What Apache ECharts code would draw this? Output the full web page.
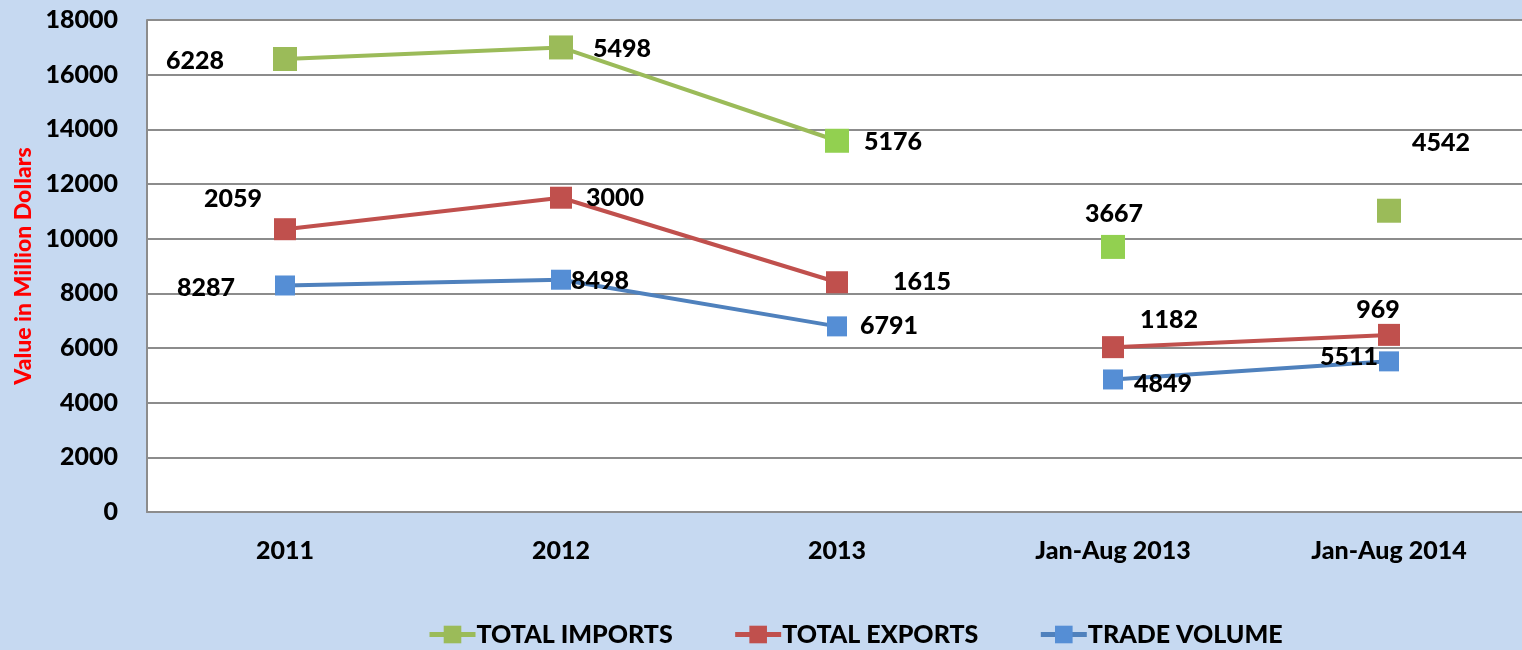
<!DOCTYPE html>
<html>
<head>
<meta charset="utf-8">
<script src="https://cdn.jsdelivr.net/npm/echarts@6/dist/echarts.min.js"></script>
<style>
  html, body { margin: 0; padding: 0; background: #c6d9f1; }
  #main { width: 1522px; height: 650px; }
</style>
</head>
<body>
<div id="main"></div>
<script>
// categories and values (stacked: trade volume, then exports, then imports)
var categories = ['2011', '2012', '2013', 'Jan-Aug 2013', 'Jan-Aug 2014'];
var tradeVolume = [8287, 8498, 6791, 4849, 5511];
var totalExports = [2059, 3000, 1615, 1182, 969];
var totalImports = [6228, 5498, 5176, 3667, 4542];
var yTicks = { min: 0, max: 18000, step: 2000 };

// label placement relative to each marker (layout only)
var importsLabelOffset = [[-90, 2], [61, 1], [56, 1], [1, -33], [52, -68]];
var exportsLabelOffset = [[-52, -30], [54, 0], [85, 0], [56, -27], [-11, -25]];
var tradeLabelOffset = [[-79, 2], [39, 1], [52, 0], [50, 4], [-40, -4]];

var FONT = 'Lato, "Open Sans", sans-serif';
var WEIGHT = 900;
var periodA = [0, 1, 2];
var periodB = [3, 4];

function part(values, offsets, idx) {
  return values.map(function (v, i) {
    if (idx.indexOf(i) < 0) return null;
    return { value: v, label: { offset: offsets[i] } };
  });
}

function makeSeries(name, values, offsets, lineColor, markerColor, size, idx, stack, showLine) {
  return {
    name: name,
    type: 'line',
    stack: stack,
    data: part(values, offsets, idx),
    symbol: 'rect',
    symbolSize: size,
    showAllSymbol: true,
    connectNulls: false,
    lineStyle: { color: lineColor, width: showLine ? 4 : 0, opacity: showLine ? 1 : 0 },
    itemStyle: { color: markerColor },
    label: {
      show: true,
      position: 'inside',
      color: '#000',
      fontFamily: FONT,
      fontWeight: WEIGHT,
      fontSize: 25,
      formatter: function (p) { return p.value; }
    },
    emphasis: { disabled: true }
  };
}

var importMarker = function (p) {
  return (p.dataIndex === 2 || p.dataIndex === 3) ? '#92d050' : '#9bbb59';
};

var chart = echarts.init(document.getElementById('main'));
chart.setOption({
  backgroundColor: '#c6d9f1',
  animation: false,
  grid: {
    left: 147, top: 20, right: -5, bottom: 138,
    outerBoundsMode: 'none',
    show: true, backgroundColor: '#ffffff', borderWidth: 0
  },
  legend: {
    data: [
      { name: 'TOTAL IMPORTS', itemStyle: { color: '#9bbb59' }, lineStyle: { color: '#9bbb59', width: 5 } },
      { name: 'TOTAL EXPORTS', itemStyle: { color: '#c0504d' }, lineStyle: { color: '#c0504d', width: 5 } },
      { name: 'TRADE VOLUME', itemStyle: { color: '#558ed5' }, lineStyle: { color: '#4f81bd', width: 5 } }
    ],
    top: 617,
    left: 422,
    itemWidth: 46,
    itemHeight: 22,
    itemGap: 60,
    textStyle: { color: '#000', fontFamily: FONT, fontWeight: WEIGHT, fontSize: 25, padding: [0, 0, 0, -4] }
  },
  xAxis: {
    type: 'category',
    data: categories,
    boundaryGap: true,
    axisLine: { lineStyle: { color: '#8c8c8c', width: 2 } },
    axisTick: { show: false },
    axisLabel: { color: '#000', fontFamily: FONT, fontWeight: WEIGHT, fontSize: 25, margin: 26 }
  },
  yAxis: {
    type: 'value',
    min: yTicks.min,
    max: yTicks.max,
    interval: yTicks.step,
    name: 'Value in Million Dollars',
    nameLocation: 'middle',
    nameRotate: 90,
    nameGap: 112,
    nameTextStyle: { color: '#ff0000', fontFamily: FONT, fontWeight: WEIGHT, fontSize: 23 },
    axisLine: { show: true, lineStyle: { color: '#8c8c8c', width: 2 } },
    axisTick: { show: false },
    splitLine: { lineStyle: { color: '#8c8c8c', width: 2 } },
    axisLabel: {
      color: '#000', fontFamily: FONT, fontWeight: WEIGHT, fontSize: 25, margin: 29,
      formatter: function (v) { return String(v); }
    }
  },
  series: [
    makeSeries('TRADE VOLUME', tradeVolume, tradeLabelOffset, '#4f81bd', '#558ed5', 20, periodA, 'a', true),
    makeSeries('TOTAL EXPORTS', totalExports, exportsLabelOffset, '#c0504d', '#c0504d', 22, periodA, 'a', true),
    makeSeries('TOTAL IMPORTS', totalImports, importsLabelOffset, '#9bbb59', importMarker, 24, periodA, 'a', true),
    makeSeries('TRADE VOLUME', tradeVolume, tradeLabelOffset, '#4f81bd', '#558ed5', 20, periodB, 'b', true),
    makeSeries('TOTAL EXPORTS', totalExports, exportsLabelOffset, '#c0504d', '#c0504d', 22, periodB, 'b', true),
    makeSeries('TOTAL IMPORTS', totalImports, importsLabelOffset, '#9bbb59', importMarker, 24, periodB, 'b', false)
  ]
});
</script>
</body>
</html>
